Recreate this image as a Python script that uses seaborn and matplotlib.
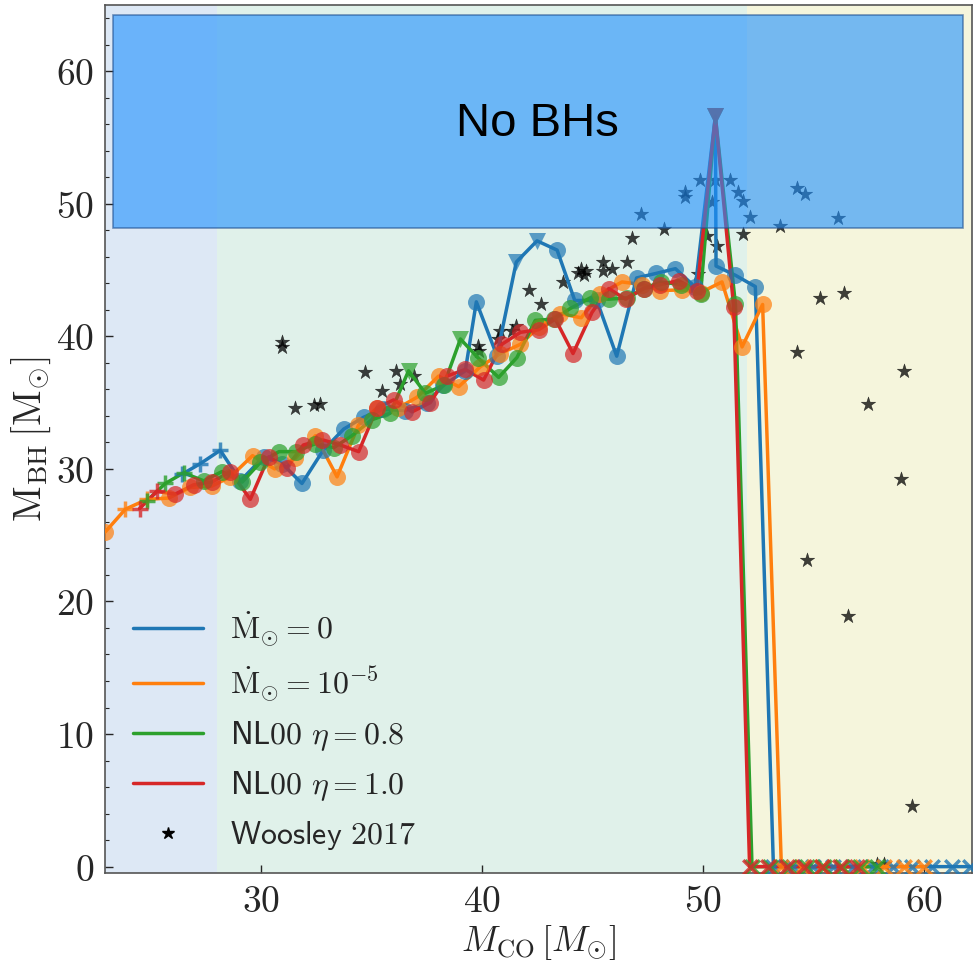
import numpy as np
import pandas as pd
import matplotlib
matplotlib.use("Agg")
import matplotlib.pyplot as plt
import seaborn as sns
from matplotlib.patches import Rectangle
from matplotlib.lines import Line2D

# ---------------- data ----------------
# Mdot = 0
blue_x = [26.41, 27.24, 28.14, 29.05, 30.10, 30.94, 31.84, 32.80, 33.73, 34.64, 35.50, 36.50,
          37.50, 38.25, 39.24, 39.74, 40.67, 41.55, 42.49, 43.40, 44.20, 45.20, 46.10, 47.00,
          47.90, 48.76, 49.66, 50.57, 50.60, 51.48, 52.38]
blue_y = [29.6, 30.4, 31.4, 29.1, 30.9, 30.4, 28.9, 31.4, 33.0, 33.9, 34.5, 34.4,
          35.0, 36.3, 37.4, 42.6, 38.55, 45.6, 47.2, 46.5, 42.7, 42.7, 38.5, 44.4,
          44.75, 45.1, 43.7, 56.6, 45.3, 44.6, 43.75]
blue_zero_x = [53.2, 54.1, 55.0, 55.9, 56.8, 57.7, 58.6, 59.5, 60.4, 61.3, 62.1]

# Mdot = 1e-5
orange_x = [22.93, 23.84, 24.82, 25.80, 26.78, 27.76, 28.60, 29.60, 30.60, 31.54, 32.45, 33.43,
            34.40, 35.24, 36.20, 37.05, 38.03, 38.94, 39.92, 40.83, 41.74, 42.57, 43.55, 44.49,
            45.36, 46.34, 47.25, 48.08, 49.06, 49.90, 50.87, 51.78, 52.71]
orange_y = [25.25, 26.96, 27.7, 27.8, 28.6, 28.7, 29.4, 31.0, 30.0, 30.8, 32.5, 29.4,
            33.3, 34.6, 34.6, 35.4, 37.0, 36.2, 37.7, 38.7, 39.4, 40.7, 41.7, 41.4,
            43.2, 44.1, 43.9, 43.45, 43.5, 43.3, 44.1, 39.2, 42.4]
orange_zero_x = [53.56, 54.5, 55.4, 56.3, 57.2, 58.2, 59.1, 60.0]

# NL00 eta = 0.8
green_x = [24.82, 25.65, 26.48, 27.39, 28.22, 29.13, 29.96, 30.80, 31.55, 32.45, 33.28, 34.10,
           35.00, 35.84, 36.67, 37.43, 38.26, 39.02, 39.80, 40.75, 41.58, 42.41, 43.25, 44.00,
           44.90, 45.74, 46.57, 47.32, 48.10, 48.99, 49.90, 50.57, 51.48]
green_y = [27.6, 28.9, 29.7, 29.1, 29.8, 29.0, 30.5, 31.3, 31.3, 31.9, 31.6, 32.5,
           33.7, 34.2, 37.4, 35.7, 36.3, 39.8, 38.4, 36.9, 38.4, 41.2, 41.3, 42.1,
           42.9, 42.8, 42.9, 43.6, 44.1, 43.9, 43.2, 56.6, 42.4]
green_zero_x = [52.23, 53.05, 53.9, 54.7, 55.5, 56.3, 57.1, 57.9]

# NL00 eta = 1.0
red_x = [24.48, 25.27, 26.10, 26.93, 27.76, 28.60, 29.50, 30.33, 31.16, 31.90, 32.75, 33.58,
         34.41, 35.24, 35.99, 36.83, 37.66, 38.41, 39.24, 40.07, 40.90, 41.74, 42.57, 43.32,
         44.12, 44.98, 45.74, 46.50, 47.32, 48.08, 48.90, 49.74, 50.57, 51.40]
red_y = [27.0, 28.3, 28.1, 28.8, 29.0, 29.8, 27.7, 30.9, 30.1, 31.8, 32.2, 31.8,
         31.3, 34.6, 35.2, 34.3, 35.0, 37.0, 37.5, 36.7, 39.4, 40.3, 40.5, 41.3,
         38.7, 41.8, 43.6, 42.8, 43.6, 43.9, 44.2, 43.45, 56.6, 42.2]
red_zero_x = [52.12, 52.95, 53.8, 54.6, 55.4, 56.2, 57.0]

# Woosley 2017
woosley_x = [30.94, 30.94, 31.54, 32.37, 32.67, 34.71, 35.47, 36.12, 36.27, 36.93,
             39.80, 39.85, 40.70, 40.80, 41.36, 41.55, 42.11, 42.65, 43.66, 44.33,
             44.48, 44.60, 44.72, 45.48, 45.50, 45.89, 46.57, 46.80, 47.20, 48.26,
             49.21, 49.21, 49.86, 50.57, 51.25, 51.58, 51.83, 50.43, 52.13, 50.20,
             50.65, 51.80, 49.80, 53.52, 54.27, 54.65, 56.13, 54.27, 55.30, 56.40,
             57.50, 59.00, 59.10, 54.70, 56.60, 59.50, 57.90, 58.20]
woosley_y = [39.6, 39.2, 34.6, 34.8, 34.9, 37.3, 35.9, 37.4, 36.4, 37.0,
             39.3, 38.9, 39.8, 40.4, 40.4, 40.8, 43.5, 42.4, 44.1, 44.8,
             45.1, 44.6, 44.9, 45.6, 44.95, 45.1, 45.6, 47.4, 49.2, 48.1,
             50.85, 50.5, 51.8, 51.8, 51.8, 50.85, 50.2, 50.1, 49.0, 47.6,
             46.8, 47.7, 44.7, 48.3, 51.2, 50.7, 48.9, 38.8, 42.9, 43.3,
             34.9, 29.2, 37.4, 23.1, 18.9, 4.6, 0.2, 0.2]

labels = [r"$\dot{\rm M}_{\odot} = 0$", r"$\dot{\rm M}_{\odot} = 10^{-5}$",
          r"$\mathsf{NL00}\ \eta = 0.8$", r"$\mathsf{NL00}\ \eta = 1.0$",
          r"$\mathsf{Woosley\ 2017}$"]
xticks = [30, 40, 50, 60]
yticks = [0, 10, 20, 30, 40, 50, 60]

# ---------------- style ----------------
sns.set_style("ticks")
plt.rcParams["mathtext.fontset"] = "cm"
plt.rcParams["font.family"] = ["DejaVu Sans"]

colors = ["#1f77b4", "#ff7f0e", "#2ca02c", "#d62728"]
series = [
    (blue_x, blue_y, blue_zero_x, 3, [17, 18, 27]),
    (orange_x, orange_y, orange_zero_x, 0, []),
    (green_x, green_y, green_zero_x, 3, [14, 17, 31]),
    (red_x, red_y, red_zero_x, 2, [32]),
]
plus_sets = {1: [1, 2]}

fig = plt.figure(figsize=(9.75, 9.66), dpi=100)
ax = fig.add_axes([0.108, 0.096, 0.889, 0.899])

ax.axvspan(22.0, 28.0, color="#dde8f5", zorder=0, lw=0)
ax.axvspan(28.0, 52.0, color="#e0f1ea", zorder=0, lw=0)
ax.axvspan(52.0, 64.0, color="#f5f5dc", zorder=0, lw=0)

for i, (xs, ys, zx, nplus, tri) in enumerate(series):
    c = colors[i]
    allx = list(xs) + list(zx)
    ally = list(ys) + [0.0] * len(zx)
    df = pd.DataFrame({"x": allx, "y": ally})
    sns.lineplot(data=df, x="x", y="y", sort=False, estimator=None, color=c,
                 lw=2.5, ax=ax, zorder=3)
    n = len(xs)
    plus_idx = plus_sets.get(i, list(range(nplus)))
    circ_idx = [k for k in range(n) if k not in plus_idx and k not in tri]
    dfc = pd.DataFrame({"x": [xs[k] for k in circ_idx], "y": [ys[k] for k in circ_idx]})
    sns.scatterplot(data=dfc, x="x", y="y", marker="o", s=150, color=c, alpha=0.7,
                    linewidth=0, ax=ax, zorder=4)
    if plus_idx:
        dfp = pd.DataFrame({"x": [xs[k] for k in plus_idx], "y": [ys[k] for k in plus_idx]})
        ax.scatter(dfp["x"], dfp["y"], marker="+", s=130, color=c, alpha=0.8,
                   linewidths=2.5, zorder=4)
    if tri:
        dft = pd.DataFrame({"x": [xs[k] for k in tri], "y": [ys[k] for k in tri]})
        sns.scatterplot(data=dft, x="x", y="y", marker="v", s=150, color=c, alpha=0.7,
                        linewidth=0, ax=ax, zorder=4)
    ax.scatter(zx, [0.0] * len(zx), marker="x", s=110, color=c, alpha=0.8,
               linewidths=2.5, zorder=4)

dfw = pd.DataFrame({"x": woosley_x, "y": woosley_y})
sns.scatterplot(data=dfw, x="x", y="y", marker="*", s=120, color="k", alpha=0.75,
                linewidth=0.3, edgecolor="k", ax=ax, zorder=2)

rect = Rectangle((23.3, 48.2), 61.8 - 23.3, 64.2 - 48.2, facecolor="dodgerblue",
                 alpha=0.6, edgecolor="#1f4f8f", lw=1.2, zorder=6)
ax.add_patch(rect)
ax.text(42.5, 56.0, "No BHs", fontsize=34, family="Liberation Sans", color="black",
        ha="center", va="center", zorder=7)

ax.set_xlim(22.93, 62.2)
ax.set_ylim(-0.5, 65)
ax.set_xticks(xticks)
ax.set_xticklabels([rf"${t}$" for t in xticks], fontsize=27)
ax.set_yticks(yticks)
ax.set_yticklabels([rf"${t}$" for t in yticks], fontsize=27)
ax.set_yticks(np.arange(0, 65, 2), minor=True)
ax.tick_params(axis="both", which="major", direction="in", length=6, width=1, pad=8)
ax.tick_params(axis="y", which="minor", direction="in", length=3, width=0.8)
for s in ax.spines.values():
    s.set_color("#555555")
    s.set_linewidth(1.2)
ax.set_xlabel(r"$M_{\rm CO}\,[M_{\odot}]$", fontsize=26, labelpad=2)
ax.set_ylabel(r"${\rm M_{BH}}\,[{\rm M}_{\odot}]$", fontsize=28, labelpad=2)

handles = [Line2D([], [], color=c, lw=2.5) for c in colors]
handles.append(Line2D([], [], color="k", marker="*", ls="none", markersize=9))
ax.legend(handles, labels, loc="lower left", bbox_to_anchor=(-0.005, -0.012), frameon=False,
          fontsize=23, handlelength=2.2, handletextpad=0.85, labelspacing=0.5,
          borderaxespad=0.6)

fig.savefig("out.png", dpi=100)
